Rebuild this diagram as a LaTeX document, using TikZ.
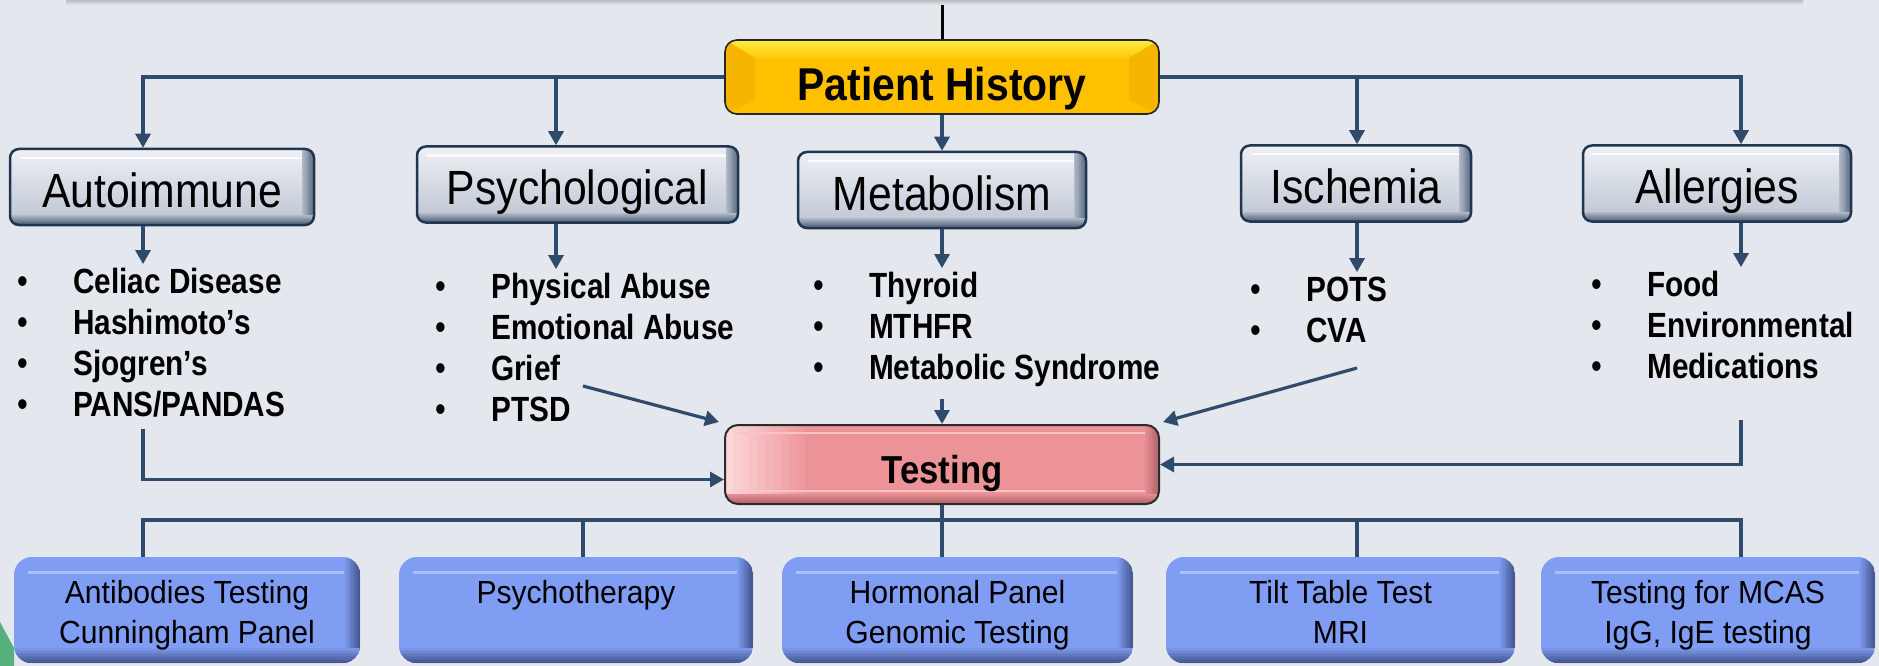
\documentclass[tikz,border=0pt]{standalone}
\usepackage{fontspec}
\setmainfont{Liberation Sans}
\newfontfamily\catfont[FakeStretch=0.89]{Liberation Sans}
\newfontfamily\listfont[FakeStretch=0.85]{Liberation Sans}
\newfontfamily\panelfont[FakeStretch=0.94]{Liberation Sans}
\usetikzlibrary{arrows.meta}

\definecolor{bg}{HTML}{E4E8EE}
\definecolor{wire}{HTML}{2F4B6C}
\definecolor{catedge}{HTML}{1F3550}
\definecolor{cattop}{HTML}{EEF0F4}
\definecolor{catbot}{HTML}{BCC4D2}
\definecolor{histfill}{HTML}{FFC000}
\definecolor{histtop}{HTML}{FFEC40}
\definecolor{histside}{HTML}{F5B500}
\definecolor{testfill}{HTML}{EC9397}
\definecolor{testlight}{HTML}{FCD6D8}
\definecolor{testdark}{HTML}{B0646A}
\definecolor{testhi}{HTML}{F9C3C5}
\definecolor{testedge}{HTML}{2B2B2B}
\definecolor{panelfill}{HTML}{7F9DF2}
\definecolor{paneldark}{HTML}{45568F}
\definecolor{panelhi}{HTML}{A9C1FA}
\definecolor{slidegreen}{HTML}{56B07C}

\newcommand\itembul{{\mdseries\fontsize{36}{36}\selectfont\textbullet}}
\newcommand\bulletlist[1]{\begin{tabular}[t]{@{}p{56pt}@{}l@{}}#1\end{tabular}}

% stepped bevels inside a node: #1 body colour, #2 edge colour, #3 depth
\newcommand\fadebottom[3]{\foreach \k [evaluate=\k as \p using \k*10+10] in {0,...,9}
    \fill[sharp corners, #2!\p!#1] ([yshift={#3*(1-\k/10)}]path picture bounding box.south west)
        rectangle (path picture bounding box.south east);}
\newcommand\faderight[3]{\foreach \k [evaluate=\k as \p using \k*10+10] in {0,...,9}
    \fill[sharp corners, #2!\p!#1] ([xshift={-#3*(1-\k/10)}]path picture bounding box.north east)
        rectangle (path picture bounding box.south east);}
\newcommand\fadetop[3]{\foreach \k [evaluate=\k as \p using \k*10+10] in {0,...,9}
    \fill[sharp corners, #2!\p!#1] ([yshift={-#3*(1-\k/10)}]path picture bounding box.north east)
        rectangle (path picture bounding box.north west);}
\newcommand\fadeleft[3]{\foreach \k [evaluate=\k as \p using \k*10+10] in {0,...,9}
    \fill[sharp corners, #2!\p!#1] ([xshift={#3*(1-\k/10)}]path picture bounding box.north west)
        rectangle (path picture bounding box.south west);}

\tikzset{
    wire/.style={draw=wire, line width=3.2pt},
    arr/.style={wire, -{Triangle[width=15pt,length=14pt]}},
    histbox/.style={draw=black!85, line width=1.6pt, rounded corners=12pt, fill=histfill,
        minimum width=434pt, minimum height=74pt, inner sep=0pt, text height=47pt, text depth=0pt,
        font=\catfont\bfseries\fontsize{46}{48}\selectfont,
        path picture={
            \fadetop{histfill}{histtop}{20pt}
            \fill[sharp corners, histside] (path picture bounding box.north west)
                -- ([shift={(30pt,-18pt)}]path picture bounding box.north west)
                -- ([shift={(30pt,14pt)}]path picture bounding box.south west)
                -- (path picture bounding box.south west) -- cycle;
            \fill[sharp corners, histside] (path picture bounding box.north east)
                -- ([shift={(-30pt,-18pt)}]path picture bounding box.north east)
                -- ([shift={(-30pt,14pt)}]path picture bounding box.south east)
                -- (path picture bounding box.south east) -- cycle;
        }},
    catbox/.style={draw=catedge, line width=2.5pt, rounded corners=9pt,
        top color=cattop, bottom color=catbot, minimum height=76pt, inner sep=0pt,
        text height=40pt, text depth=0pt, font=\catfont\fontsize{48}{50}\selectfont,
        path picture={
            \faderight{catbot}{catedge!60!catbot}{12pt}
            \fadebottom{catbot}{catedge!70!catbot}{10pt}
            \draw[white, line width=2pt, opacity=.8]
                ([shift={(10pt,-9pt)}]path picture bounding box.north west)
                -- ([shift={(-12pt,-9pt)}]path picture bounding box.north east);
        }},
    itemlist/.style={anchor=base west, inner sep=0pt, font=\listfont\bfseries\fontsize{35}{41}\selectfont},
    testbox/.style={draw=testedge, line width=2pt, rounded corners=13pt, fill=testfill,
        minimum width=434pt, minimum height=79pt, inner sep=0pt, text height=37pt, text depth=0pt,
        font=\catfont\bfseries\fontsize{39}{40}\selectfont,
        path picture={
            \fadeleft{testfill}{testlight}{80pt}
            \faderight{testfill}{testdark}{14pt}
            \fadebottom{testfill}{testdark}{10pt}
            \draw[testhi, line width=2.5pt]
                ([shift={(12pt,-8pt)}]path picture bounding box.north west)
                -- ([shift={(-14pt,-8pt)}]path picture bounding box.north east);
            \draw[testhi, line width=2pt]
                ([shift={(12pt,13pt)}]path picture bounding box.south west)
                -- ([shift={(-14pt,13pt)}]path picture bounding box.south east);
        }},
    panel/.style={fill=panelfill, rounded corners=18pt, minimum height=106pt, inner sep=0pt,
        align=center, text height=72pt, text depth=6pt, font=\panelfont\fontsize{32}{40}\selectfont,
        path picture={
            \faderight{panelfill}{paneldark}{15pt}
            \fadebottom{panelfill}{paneldark}{15pt}
            \draw[panelhi, line width=3pt]
                ([shift={(14pt,-15pt)}]path picture bounding box.north west)
                -- ([shift={(-16pt,-15pt)}]path picture bounding box.north east);
        }},
}

\begin{document}
\begin{tikzpicture}[x=1pt, y=1pt]
    \fill[bg] (0,0) rectangle (1879,-666);
    \useasboundingbox (0,0) rectangle (1879,-666);
    \shade[top color=black!18!bg, bottom color=bg] (66,0) rectangle (1803,-5);
    \fill[slidegreen] (0,-622) -- (14,-648) -- (14,-666) -- (0,-666) -- cycle;

    \node[histbox] (hist) at (942,-77) {Patient History};
    \coordinate (feed) at (942,-5);
    \draw[black, line width=3pt] (feed) -- (hist.north);

    \node[catbox, minimum width=304pt] (auto) at (162,-187) {Autoimmune};
    \node[catbox, minimum width=321pt] (psych) at (577.5,-184.5) {Psychological};
    \node[catbox, minimum width=288pt] (metab) at (942,-190) {Metabolism};
    \node[catbox, minimum width=230pt] (isch) at (1356,-183.5) {Ischemia};
    \node[catbox, minimum width=268pt] (allerg) at (1717,-183.5) {Allergies};

    \node[itemlist] (auto-list) at (17,-293) {\bulletlist{
        \itembul & Celiac Disease\\
        \itembul & Hashimoto’s\\
        \itembul & Sjogren’s\\
        \itembul & PANS/PANDAS}};
    \node[itemlist] (psych-list) at (435,-298) {\bulletlist{
        \itembul & Physical Abuse\\
        \itembul & Emotional Abuse\\
        \itembul & Grief\\
        \itembul & PTSD}};
    \node[itemlist] (metab-list) at (813,-297) {\bulletlist{
        \itembul & Thyroid\\
        \itembul & MTHFR\\
        \itembul & Metabolic Syndrome}};
    \node[itemlist] (isch-list) at (1250,-301) {\bulletlist{
        \itembul & POTS\\
        \itembul & CVA}};
    \node[itemlist] (allerg-list) at (1591,-296) {\bulletlist{
        \itembul & Food\\
        \itembul & Environmental\\
        \itembul & Medications}};

    \node[testbox] (test) at (942,-464.5) {Testing};

    \node[panel, minimum width=346pt] (antibody) at (187,-610) {Antibodies Testing\\Cunningham Panel};
    \node[panel, minimum width=354pt, text height=32pt, text depth=46pt] (therapy) at (576,-610) {Psychotherapy};
    \node[panel, minimum width=351pt] (hormonal) at (957.5,-610) {Hormonal Panel\\Genomic Testing};
    \node[panel, minimum width=349pt] (tilt) at (1340.5,-610) {Tilt Table Test\\MRI};
    \node[panel, minimum width=334pt] (mcas) at (1708,-610) {Testing for MCAS\\IgG, IgE testing};

    \foreach \n/\x in {auto/143, psych/556, metab/942, isch/1357, allerg/1741}
        \coordinate (top-\n) at (\x,-77);
    \draw[arr] (hist.west) -- (top-auto) -- (top-auto |- auto.north);
    \draw[arr] (hist.east) -- (top-allerg) -- (top-allerg |- allerg.north);
    \draw[arr] (top-psych) -- (top-psych |- psych.north);
    \draw[arr] (top-isch) -- (top-isch |- isch.north);
    \draw[arr] (hist.south) -- (metab.north);
    \foreach \n in {auto, psych, metab, isch, allerg}
        \draw[arr] (\n.south -| top-\n) -- (\n-list.north -| top-\n);

    \coordinate (out-auto) at (143,-429);
    \coordinate (out-psych) at (583,-386);
    \coordinate (out-metab) at (942,-399);
    \coordinate (out-isch) at (1357,-368);
    \coordinate (out-allerg) at (1741,-420);
    \draw[arr] (out-auto) |- ([yshift=-15pt]test.west);
    \draw[arr] (out-psych) -- ([shift={(-5pt,2pt)}]test.north west);
    \draw[arr] (out-metab) -- (test.north);
    \draw[arr] (out-isch) -- ([shift={(3pt,2pt)}]test.north east);
    \draw[arr] (out-allerg) |- (test.east);

    \foreach \n/\x in {antibody/143, therapy/583, hormonal/942, tilt/1357, mcas/1741}
        \coordinate (low-\n) at (\x,-520);
    \draw[wire] (test.south) -- (low-hormonal);
    \draw[wire] (low-antibody |- antibody.north) -- (low-antibody) -- (low-mcas) -- (low-mcas |- mcas.north);
    \foreach \n in {therapy, hormonal, tilt}
        \draw[wire] (low-\n) -- (low-\n |- \n.north);
\end{tikzpicture}
\end{document}
